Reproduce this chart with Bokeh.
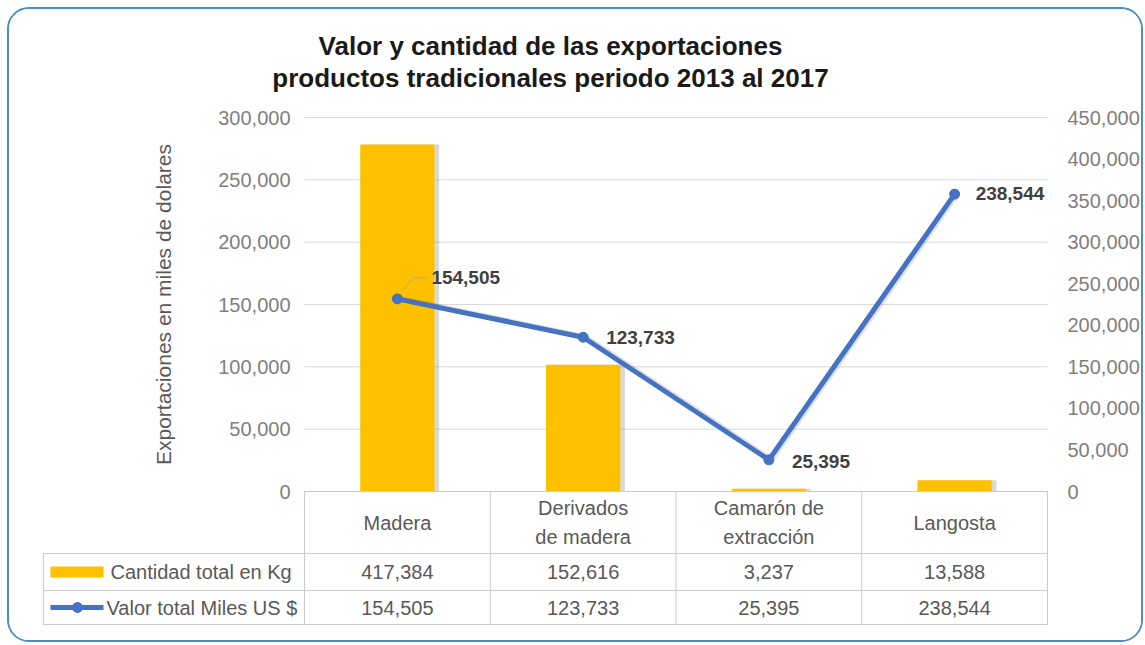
from bokeh.plotting import figure
from bokeh.layouts import column
from bokeh.models import Range1d, LinearAxis, FixedTicker, NumeralTickFormatter, ColumnDataSource
from bokeh.core.properties import value
from bokeh.transform import dodge
from bokeh.embed import file_html
from bokeh.resources import INLINE

# ---------------- data ----------------
categorias = ["Madera", "Derivados de madera", "Camarón de extracción", "Langosta"]
etiquetas_tabla = ["Madera", "Derivados\nde madera", "Camarón de\nextracción", "Langosta"]
cantidad_kg = [417384, 152616, 3237, 13588]
valor_miles_usd = [154505, 123733, 25395, 238544]
ticks_izq = [0, 50000, 100000, 150000, 200000, 250000, 300000]
ticks_der = [0, 50000, 100000, 150000, 200000, 250000, 300000, 350000, 400000, 450000]
titulo = ["Valor y cantidad de las exportaciones",
          "productos tradicionales periodo 2013 al 2017"]
serie_barras = "Cantidad total en Kg"
serie_linea = "Valor total Miles US $"
eje_izq_titulo = "Exportaciones en miles de dolares"

# ---------------- layout / style ----------------
FONT = "Liberation Sans"
W, H = 1132, 631
ORIGIN = 9                    # page px of the canvas corner (7px margin + 2px border)
X0_PX, Y0_PX = 304, 491       # page px of the first category edge and of value 0
COL_PX = 185.75               # width of one category column
n = len(categorias)
y_max, y2_max = ticks_izq[-1], ticks_der[-1]
upp = y_max / 374.0           # left-axis units per pixel
k_der = y2_max / y_max


def X(px):
    return (px - X0_PX) / COL_PX


def Y(py):
    return (Y0_PX - py) * upp


GRID = "#d9d9d9"
TABLE = "#cccccc"
TXT = "#595959"
TICK = "#7f7f7f"
BAR = "#FFC000"
LINE = "#4472C4"

lbl_dx = [34, 23, 23, 21]     # data-label offsets (screen px)
lbl_dy = [-21, 0, 2, -1]

xpos = [i + 0.5 for i in range(n)]          # category centres on the x scale
src = ColumnDataSource(dict(
    x=xpos, cat=categorias, kg=cantidad_kg, usd=valor_miles_usd,
    usd_txt=[f"{v:,}" for v in valor_miles_usd], dx=lbl_dx, dy=lbl_dy,
    tab=etiquetas_tabla,
    kg_txt=[f"{v:,}" for v in cantidad_kg]))

p = figure(width=W, height=H,
           x_range=Range1d(X(ORIGIN), X(ORIGIN + W)),
           y_range=Range1d(Y(ORIGIN + H), Y(ORIGIN)),
           output_backend="svg", toolbar_location=None,
           x_axis_location=None, y_axis_location="left", min_border=0)
p.title.visible = False
p.outline_line_color = None
p.background_fill_color = "white"
p.border_fill_color = "white"
p.grid.visible = False
p.extra_y_ranges = {"der": Range1d(Y(ORIGIN + H) * k_der, Y(ORIGIN) * k_der)}

# left axis (drawn at the first category edge)
ax = p.yaxis[0]
ax.fixed_location = 0
ax.bounds = (0, y_max)
ax.ticker = FixedTicker(ticks=ticks_izq)
ax.formatter = NumeralTickFormatter(format="0,0")
ax.axis_line_color = None
ax.major_tick_line_color = None
ax.minor_tick_line_color = None
ax.major_tick_out = 0
ax.major_label_standoff = 14
ax.major_label_text_font = FONT
ax.major_label_text_font_size = "20px"
ax.major_label_text_color = TICK
ax.axis_label = eje_izq_titulo
ax.axis_label_text_font = FONT
ax.axis_label_text_font_size = "21px"
ax.axis_label_text_font_style = "normal"
ax.axis_label_text_color = TXT
ax.axis_label_standoff = 40

# right axis (drawn at the last category edge)
ax2 = LinearAxis(y_range_name="der", fixed_location=n, bounds=(0, y2_max),
                 ticker=FixedTicker(ticks=ticks_der),
                 formatter=NumeralTickFormatter(format="0,0"))
ax2.axis_line_color = None
ax2.major_tick_line_color = None
ax2.minor_tick_line_color = None
ax2.major_tick_out = 0
ax2.major_label_standoff = 20
ax2.major_label_text_font = FONT
ax2.major_label_text_font_size = "20px"
ax2.major_label_text_color = TICK
p.add_layout(ax2, "right")

# horizontal gridlines of the chart area
p.segment(x0=[0] * len(ticks_izq), y0=ticks_izq, x1=[n] * len(ticks_izq), y1=ticks_izq,
          line_color=GRID, line_width=1)

# title
p.text(x=[X(550)] * 2, y=[Y(45), Y(77)], text=titulo, text_align="center",
       text_baseline="alphabetic", text_font=value(FONT), text_font_style="bold",
       text_font_size="26px", text_color="#1a1a1a")

# bars (right axis) with a soft shadow
p.vbar(x=dodge("x", 0.025), top="kg", width=0.4, source=src, y_range_name="der",
       fill_color="#000000", fill_alpha=0.15, line_color=None)
p.vbar(x="x", top="kg", width=0.4, source=src, y_range_name="der",
       fill_color=BAR, line_color=None)

# line (left axis) with a faint shadow
p.line(x=dodge("x", 0.012), y="usd", source=src, line_color="#000000", line_alpha=0.12,
       line_width=6, line_join="round")
p.line(x="x", y="usd", source=src, line_color=LINE, line_width=5, line_join="round")
p.scatter(x="x", y="usd", source=src, size=10, marker="circle",
          fill_color=LINE, line_color=LINE)

# leader line of the first data label
x_l, v_l = xpos[0], valor_miles_usd[0]
p.line(x=[x_l + 4 / COL_PX, x_l + 16 / COL_PX, x_l + 29 / COL_PX],
       y=[v_l + 8 * upp, v_l + 21 * upp, v_l + 21 * upp],
       line_color="#a6a6a6", line_width=1)
p.text(x="x", y="usd", text="usd_txt", x_offset="dx", y_offset="dy", source=src,
       text_font=value(FONT), text_font_style="bold", text_font_size="19px",
       text_color="#404040", text_align="left", text_baseline="middle")

# ---------------- data table ----------------
row_lines_px = [553, 590, 624]
row_centers_px = [522, 571.5, 607]
tbl_left = X(43)
p.segment(x0=[0], y0=[0], x1=[n], y1=[0], line_color=TABLE, line_width=1)
p.segment(x0=[tbl_left] * 3, y0=[Y(r) for r in row_lines_px], x1=[n] * 3,
          y1=[Y(r) for r in row_lines_px], line_color=TABLE, line_width=1)
p.segment(x0=[tbl_left], y0=[Y(row_lines_px[0])], x1=[tbl_left], y1=[Y(row_lines_px[-1])],
          line_color=TABLE, line_width=1)
p.segment(x0=list(range(n + 1)), y0=[0] * (n + 1), x1=list(range(n + 1)),
          y1=[Y(row_lines_px[-1])] * (n + 1), line_color=TABLE, line_width=1)

cell = dict(text_align="center", text_baseline="middle", text_font=value(FONT),
            text_font_size="20px", text_color=TXT)
p.text(x="x", y=Y(row_centers_px[0]), text="tab", source=src, text_line_height=1.3, **cell)
p.text(x="x", y=Y(row_centers_px[1]), text="kg_txt", source=src, **cell)
p.text(x="x", y=Y(row_centers_px[2]), text="usd_txt", source=src, **cell)

# legend keys + row labels in the header column
p.quad(left=[X(50)], right=[X(103)], top=[Y(566)], bottom=[Y(577)],
       fill_color=BAR, line_color=None)
p.line(x=[X(50), X(103)], y=[Y(row_centers_px[2])] * 2, line_color=LINE, line_width=5)
p.scatter(x=[X(77)], y=[Y(row_centers_px[2])], size=10, marker="circle",
          fill_color=LINE, line_color=LINE)
head = dict(text_align="left", text_baseline="middle", text_font=value(FONT),
            text_font_size="20px", text_color=TXT)
p.text(x=[X(110)], y=[Y(row_centers_px[1])], text=[serie_barras], **head)
p.text(x=[X(106)], y=[Y(row_centers_px[2])], text=[serie_linea], **head)

layout = column(p, styles={"margin": "7px 0 0 7px", "border": "2px solid #4a8fc4",
                           "border-radius": "22px", "box-sizing": "content-box",
                           "overflow": "hidden", "background-color": "white"})

open("out.html", "w").write(file_html(layout, INLINE))
